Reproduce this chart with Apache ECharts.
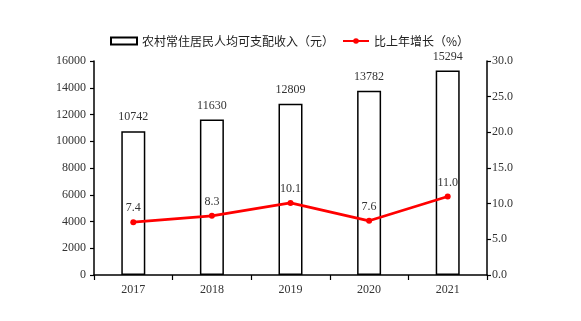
<!DOCTYPE html>
<html>
<head>
<meta charset="utf-8">
<script src="https://cdn.jsdelivr.net/npm/echarts@6/dist/echarts.min.js"></script>
<style>html,body{margin:0;padding:0;background:#fff;}#c{width:581px;height:321px;}</style>
</head>
<body>
<div id="c"></div>
<script>
var years = ['2017', '2018', '2019', '2020', '2021'];
var income = [10742, 11630, 12809, 13782, 15294];
var growth = [7.4, 8.3, 10.1, 7.6, 11.0];
var incomeName = '农村常住居民人均可支配收入（元）';
var growthName = '比上年增长（%）';

var serif = '"Liberation Serif", "DejaVu Serif", serif';
var txt = '#333';
var chart = echarts.init(document.getElementById('c'));
chart.setOption({
  animation: false,
  backgroundColor: '#fff',
  textStyle: { fontFamily: serif },
  legend: {
    left: 105, top: 30,
    itemWidth: 26, itemHeight: 7, itemGap: 8,
    textStyle: { fontFamily: '"Noto Sans CJK SC", sans-serif', fontSize: 12, color: '#222' },
    data: [{ name: incomeName, icon: 'rect' }, { name: growthName }]
  },
  grid: { left: 94, right: 94, top: 61, bottom: 46 },
  xAxis: {
    type: 'category', data: years, boundaryGap: true,
    axisLine: { lineStyle: { color: '#000', width: 1.5 } },
    axisTick: { show: true, length: 5, lineStyle: { color: '#000', width: 1.2 } },
    axisLabel: { color: txt, fontFamily: serif, fontSize: 12, margin: 9 }
  },
  yAxis: [{
    type: 'value', min: 0, max: 16000, interval: 2000,
    axisLine: { show: true, lineStyle: { color: '#000', width: 1.5 } },
    axisTick: { show: true, length: 4, lineStyle: { color: '#000', width: 1.2 } },
    axisLabel: { color: txt, fontFamily: serif, fontSize: 12, margin: 8,
      formatter: function (v) { return String(v); } },
    splitLine: { show: false }
  }, {
    type: 'value', min: 0, max: 30, interval: 5, position: 'right',
    axisLine: { show: true, lineStyle: { color: '#000', width: 1.5 } },
    axisTick: { show: true, length: 4, lineStyle: { color: '#000', width: 1.2 } },
    axisLabel: { color: txt, fontFamily: serif, fontSize: 12, margin: 5,
      formatter: function (v) { return v.toFixed(1); } },
    splitLine: { show: false }
  }],
  series: [{
    name: incomeName, type: 'bar', data: income, barWidth: 24, yAxisIndex: 0,
    itemStyle: { color: '#fff', borderColor: '#000', borderWidth: 1.5 },
    label: { show: true, position: 'top', distance: 8, color: txt, fontFamily: serif, fontSize: 12 }
  }, {
    name: growthName, type: 'line', data: growth, yAxisIndex: 1,
    symbol: 'circle', symbolSize: 6,
    lineStyle: { color: '#ff0000', width: 2.8 },
    itemStyle: { color: '#ff0000' },
    label: { show: true, position: 'top', distance: 5, color: txt, fontFamily: serif, fontSize: 12,
      formatter: function (p) { return p.value.toFixed(1); } }
  }]
});
</script>
</body>
</html>
